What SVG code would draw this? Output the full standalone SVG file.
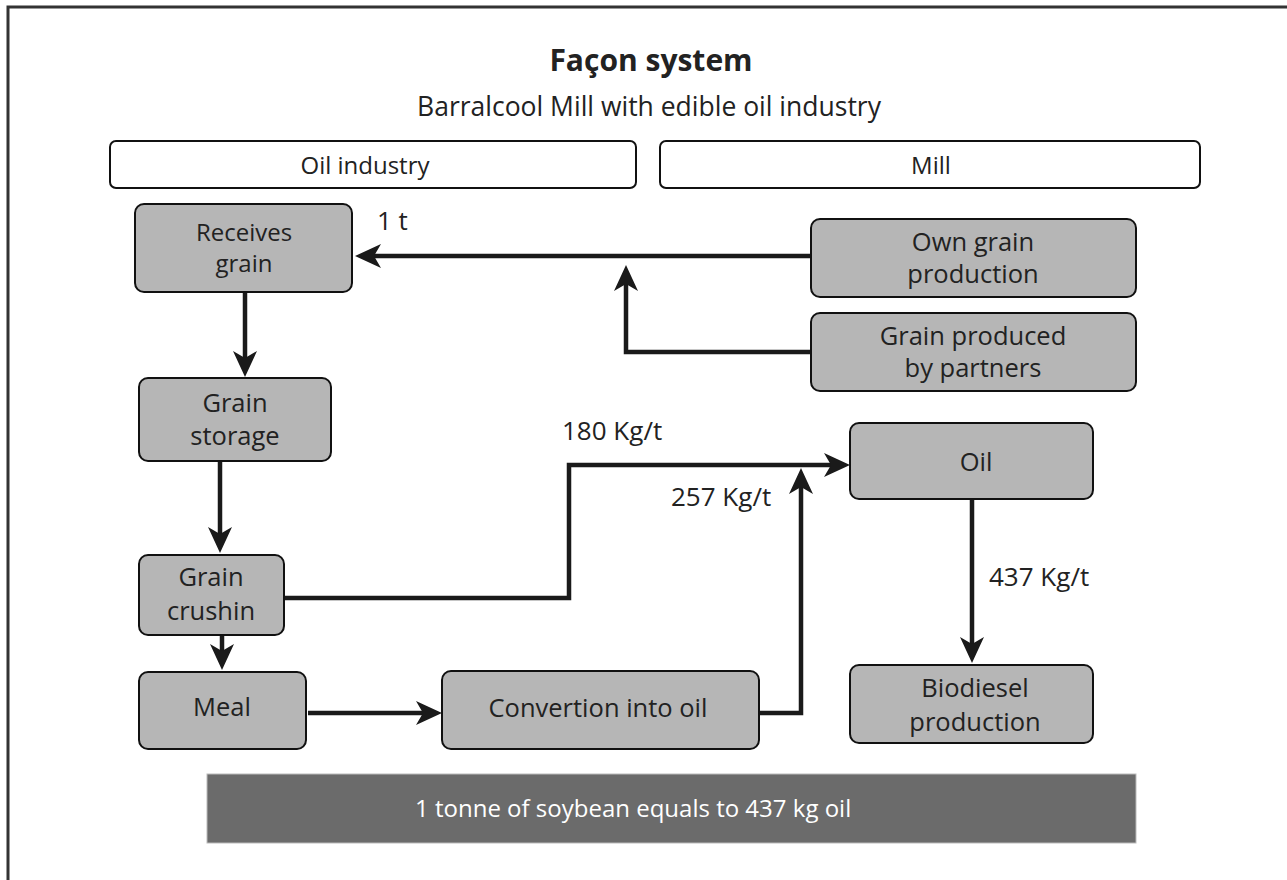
<svg xmlns="http://www.w3.org/2000/svg" width="1287" height="880" viewBox="0 0 1287 880">
<style>
text{font-family:"Open Sans","Liberation Sans",sans-serif;fill:#222;text-anchor:middle}
.node{fill:#b6b6b6;stroke:#111;stroke-width:2}
.hdr{fill:#fff;stroke:#111;stroke-width:2}
.t{font-size:25.5px}
.h{font-size:24px}
.conn{fill:none;stroke:#1a1a1a;stroke-width:4.5;marker-end:url(#arr)}
.lbl{font-size:26px;text-anchor:start}
</style>
<defs>
<marker id="arr" markerUnits="userSpaceOnUse" viewBox="0 0 26 24" refX="18" refY="12" markerWidth="26" markerHeight="24" orient="auto">
<path d="M0,0 L26,12 L0,24 L7,12 Z" fill="#1a1a1a"/>
</marker>
</defs>
<rect x="0" y="0" width="1287" height="880" fill="#fff"/>
<path d="M8,900 L8,7 L1300,7" fill="none" stroke="#333" stroke-width="3"/>
<text x="651" y="71" style="font-size:30px;font-weight:bold">Façon system</text>
<text x="649" y="116" style="font-size:26.5px">Barralcool Mill with edible oil industry</text>
<g id="hdr-oil"><rect class="hdr" x="110" y="141" width="526" height="47" rx="6"/><text class="h" x="365" y="174">Oil industry</text></g>
<g id="hdr-mill"><rect class="hdr" x="660" y="141" width="540" height="47" rx="6"/><text class="h" x="931" y="174">Mill</text></g>
<g id="connectors">
<path class="conn" d="M811,256 L363,256"/>
<path class="conn" d="M811,352 L626,352 L626,273"/>
<path class="conn" d="M245,292 L245,369"/>
<path class="conn" d="M220,461 L220,545"/>
<path class="conn" d="M222,635 L222,662"/>
<path class="conn" d="M308,713 L434,713"/>
<path class="conn" d="M284,598 L569,598 L569,465 L842,465"/>
<path class="conn" d="M759,713 L801,713 L801,476"/>
<path class="conn" d="M972,499 L972,655"/>
<text class="lbl" x="377" y="230">1 t</text>
<text class="lbl" x="562" y="440">180 Kg/t</text>
<text class="lbl" x="671" y="506">257 Kg/t</text>
<text class="lbl" x="989" y="586">437 Kg/t</text>
</g>
<g id="receives"><rect class="node" x="135" y="204" width="217" height="88" rx="9"/><text x="244" y="241" style="font-size:24px">Receives</text><text x="244" y="272" style="font-size:24px">grain</text></g>
<g id="own"><rect class="node" x="811" y="219" width="325" height="78" rx="9"/><text class="t" x="973" y="251">Own grain</text><text class="t" x="973" y="283">production</text></g>
<g id="partners"><rect class="node" x="811" y="313" width="325" height="78" rx="9"/><text class="t" x="973" y="345">Grain produced</text><text class="t" x="973" y="377">by partners</text></g>
<g id="storage"><rect class="node" x="139" y="378" width="192" height="83" rx="9"/><text class="t" x="235" y="412">Grain</text><text class="t" x="235" y="445">storage</text></g>
<g id="crushin"><rect class="node" x="139" y="555" width="145" height="80" rx="9"/><text class="t" x="211" y="586">Grain</text><text class="t" x="211" y="620">crushin</text></g>
<g id="meal"><rect class="node" x="139" y="672" width="167" height="77" rx="9"/><text class="t" x="222" y="716">Meal</text></g>
<g id="convertion"><rect class="node" x="442" y="671" width="317" height="78" rx="9"/><text class="t" x="598" y="717">Convertion into oil</text></g>
<g id="oil"><rect class="node" x="850" y="423" width="243" height="76" rx="9"/><text class="t" x="976" y="471">Oil</text></g>
<g id="biodiesel"><rect class="node" x="850" y="665" width="243" height="78" rx="9"/><text class="t" x="975" y="697">Biodiesel</text><text class="t" x="975" y="731">production</text></g>
<g id="note"><rect x="207" y="774" width="929" height="69" fill="#6b6b6b" stroke="#bbb" stroke-width="1"/><text x="415" y="817" style="font-size:24px;fill:#fff;text-anchor:start">1 tonne of soybean equals to 437 kg oil</text></g>
</svg>
